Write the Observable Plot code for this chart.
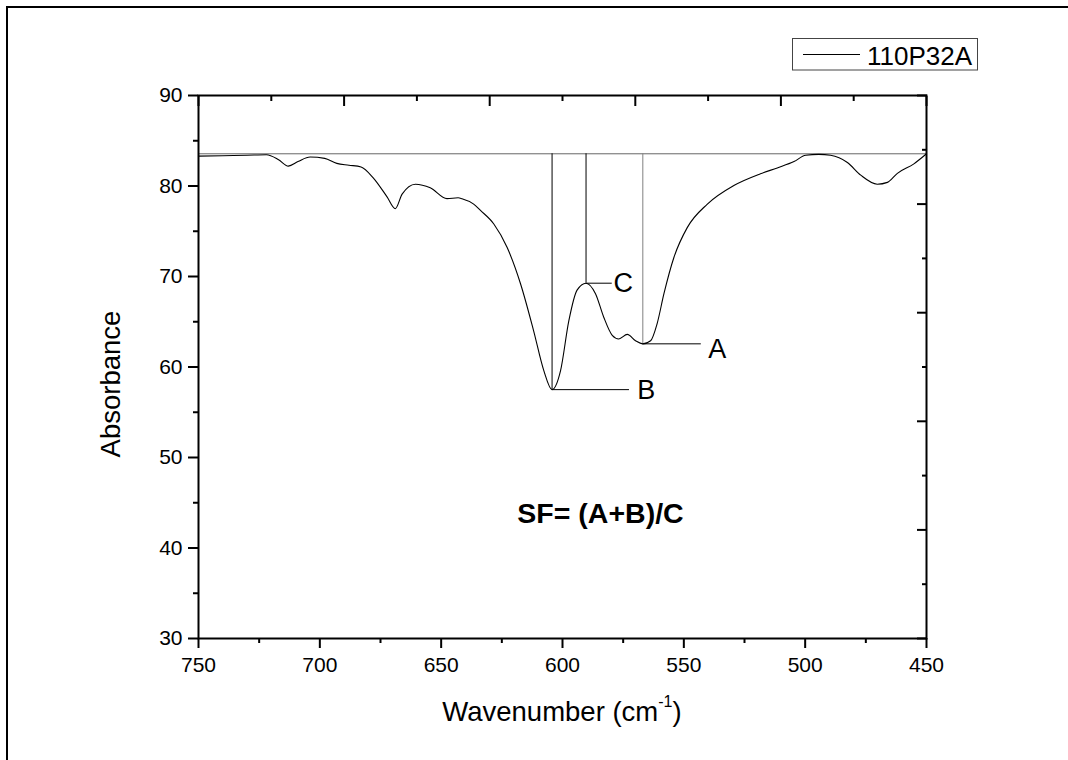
<!DOCTYPE html>
<html><head><meta charset="utf-8">
<script src="https://cdn.jsdelivr.net/npm/d3@7"></script>
<script src="https://cdn.jsdelivr.net/npm/@observablehq/plot@0.6"></script>
<style>
html,body{margin:0;padding:0;background:#fff;overflow:hidden}
#chart{position:relative;width:1068px;height:760px;overflow:hidden}
#chart svg{display:block}
#pageframe{position:absolute;left:5.5px;top:5.5px;width:1200px;height:900px;border-top:2px solid #000;border-left:2px solid #000;pointer-events:none}
</style>
</head><body><div id="chart"><div id="pageframe"></div></div>
<script>
// ---- data ----
const wavenumber = [750, 740, 730, 722, 717, 713, 709, 704, 698, 693, 688, 683, 678, 672.3, 668.9, 666.1, 660.6, 654.5, 647.6, 643, 641.4, 636.6, 633.8,
  628.3, 622.8, 617.3, 611.9, 607.7, 604.3, 600.8, 597.4, 594, 590.3, 586.4, 583, 579.5, 576.8, 573.3, 569.9, 566.9, 563.7, 561, 558.2, 554.1, 548.6,
  540.3, 529.4, 518.4, 511.5, 504.6, 499.8, 494.4, 489.5, 482.6, 477.1, 470.3, 466.1, 462, 455.2, 450];
const absorbance = [83.3, 83.35, 83.4, 83.45, 82.9, 82.2, 82.7, 83.2, 83.05, 82.5, 82.3, 82.1, 80.9, 78.8, 77.5, 79.1, 80.2, 79.8, 78.6, 78.7, 78.6, 78.0, 77.3,
  75.8, 73.2, 69.2, 64.0, 59.6, 57.5, 59.6, 65.1, 68.5, 69.26, 68.1, 65.5, 63.5, 63.1, 63.6, 62.9, 62.56, 62.9, 64.8, 68.1, 72.1, 75.4,
  78.0, 80.05, 81.35, 82.0, 82.7, 83.4, 83.5, 83.4, 82.6, 81.2, 80.2, 80.4, 81.4, 82.45, 83.56];
const baselineValue = 83.56;

const peakNames = ["A", "B", "C"];
const peakWavenumber = [566.9, 604.3, 590.3];
const peakAbsorbance = [62.56, 57.5, 69.26];
const leaderEnd = [542.8, 572.4, 579.5];
const labelWavenumber = [539.9, 569.2, 579.0];
const labelAbsorbance = [62.0, 57.4, 69.2];
const dropColor = ["#808080", "#000000", "#000000"];

const formulaText = ["SF= (A+B)/C"];
const formulaWavenumber = [618.6];
const formulaAbsorbance = [43.8];

const xMajorTicks = [750, 700, 650, 600, 550, 500, 450];
const xMinorTicks = [725, 675, 625, 575, 525, 475];
const yMajorTicks = [30, 40, 50, 60, 70, 80, 90];
const yMinorTicks = [35, 45, 55, 65, 75, 85];
const topMajorTicks = [750, 690, 630, 570, 510, 450];
const topMinorTicks = [720, 660, 600, 540, 480];
const rightMajorTicks = [90, 78, 66, 54, 42, 30];
const rightMinorTicks = [84, 72, 60, 48, 36];

const legendLabel = "110P32A";
const xTitle = ["Wavenumber (cm", "-1", ")"];
const yTitle = "Absorbance";

// ---- build ----
const spectrum = wavenumber.map((w, i) => ({w, a: absorbance[i]}));
const peaks = peakNames.map((n, i) => ({n, w: peakWavenumber[i], a: peakAbsorbance[i], end: leaderEnd[i],
  lw: labelWavenumber[i], la: labelAbsorbance[i], c: dropColor[i]}));
const formula = formulaText.map((t, i) => ({t, w: formulaWavenumber[i], a: formulaAbsorbance[i]}));
const font = "'Liberation Sans', Arial, Helvetica, sans-serif";

const chart = Plot.plot({
  width: 1068, height: 760,
  marginLeft: 198, marginRight: 142, marginTop: 95, marginBottom: 122,
  style: {fontFamily: font, background: "white", overflow: "hidden", color: "black"},
  x: {domain: [750, 450], label: null},
  y: {domain: [30, 90], label: null},
  marks: [
    Plot.ruleY([baselineValue], {stroke: "#666", strokeWidth: 1}),
    Plot.ruleX(peaks, {x: "w", y1: baselineValue, y2: "a", stroke: "c", strokeWidth: 1}),
    Plot.ruleY(peaks, {y: "a", x1: "w", x2: "end", stroke: "black", strokeWidth: 1}),
    Plot.line(spectrum, {x: "w", y: "a", curve: "monotone-x", stroke: "black", strokeWidth: 1.1}),
    Plot.text(peaks, {x: "lw", y: "la", text: "n", textAnchor: "start", fontSize: 27, lineAnchor: "middle", fill: "black"}),
    Plot.text(formula, {x: "w", y: "a", text: "t", textAnchor: "start", fontSize: 28.5, fontWeight: "bold", lineAnchor: "middle", fill: "black"}),
    Plot.axisX({ticks: xMajorTicks, tickSize: 10, tickPadding: 9, fontSize: 21, strokeWidth: 2, label: null, tickFormat: d => String(d)}),
    Plot.axisX({ticks: xMinorTicks, tickSize: 5, text: null, strokeWidth: 2, label: null}),
    Plot.axisY({ticks: yMajorTicks, tickSize: 10, tickPadding: 6, fontSize: 21, strokeWidth: 2, label: null, tickFormat: d => String(d)}),
    Plot.axisY({ticks: yMinorTicks, tickSize: 5, text: null, strokeWidth: 2, label: null}),
    Plot.axisX({anchor: "top", ticks: topMajorTicks, tickSize: 10, dy: 10, text: null, strokeWidth: 2, label: null}),
    Plot.axisX({anchor: "top", ticks: topMinorTicks, tickSize: 5, dy: 5, text: null, strokeWidth: 2, label: null}),
    Plot.axisY({anchor: "right", ticks: rightMajorTicks, tickSize: 10, dx: -10, text: null, strokeWidth: 2, label: null}),
    Plot.axisY({anchor: "right", ticks: rightMinorTicks, tickSize: 5, dx: -5, text: null, strokeWidth: 2, label: null}),
    Plot.frame({stroke: "black", strokeWidth: 2})
  ]
});

document.getElementById("chart").insertBefore(chart, document.getElementById("pageframe"));
const svg = d3.select(chart);

// legend
const lg = svg.append("g").attr("text-anchor", "start");
lg.append("rect").attr("x", 792.5).attr("y", 38.5).attr("width", 185).attr("height", 31.5)
  .attr("fill", "white").attr("stroke", "#444").attr("stroke-width", 1);
lg.append("line").attr("x1", 803).attr("x2", 860).attr("y1", 54.5).attr("y2", 54.5).attr("stroke", "black").attr("stroke-width", 1);
lg.append("text").attr("x", 867).attr("y", 65).attr("text-anchor", "start").attr("font-size", 26).attr("fill", "black").text(legendLabel);

// x title with superscript
const xt = svg.append("text").attr("x", 562).attr("y", 721).attr("text-anchor", "middle").attr("font-size", 27.5).attr("fill", "black");
xt.append("tspan").text(xTitle[0]);
xt.append("tspan").attr("font-size", 16).attr("dy", -14).text(xTitle[1]);
xt.append("tspan").attr("font-size", 27.5).attr("dy", 14).text(xTitle[2]);

// y title
svg.append("text").attr("transform", "translate(120,384) rotate(-90)").attr("text-anchor", "middle")
  .attr("font-size", 27.5).attr("fill", "black").text(yTitle);
</script>
</body></html>
